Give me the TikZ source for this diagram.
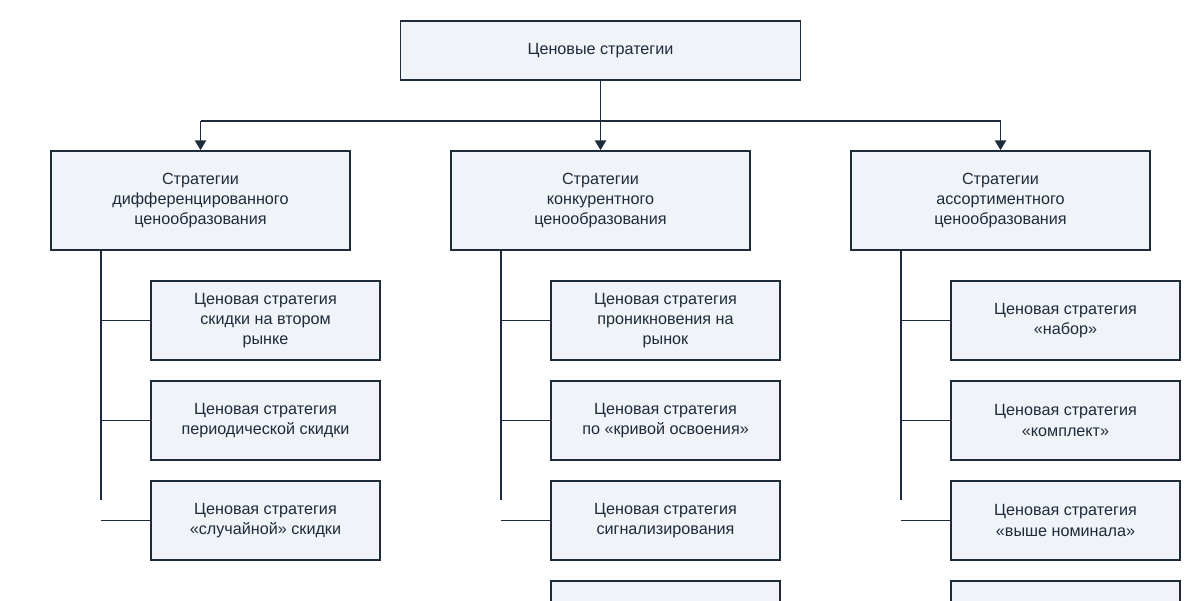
\documentclass[tikz,border=0pt]{standalone}
\usepackage{fontspec}
\setmainfont{Liberation Sans}
\usetikzlibrary{arrows.meta}
\definecolor{bfill}{HTML}{F0F3F8}
\definecolor{bline}{HTML}{1E2B3A}
\begin{document}
\begin{tikzpicture}[x=0.025cm,y=-0.025cm,
  box/.style={draw=bline,fill=bfill,line width=1.2pt,align=center,text=bline,
    font=\fontsize{11.5}{14.3}\selectfont,inner sep=0pt},
  top/.style={box,minimum width=10cm,minimum height=1.475cm},
  mid/.style={box,minimum width=7.475cm,minimum height=2.475cm},
  leaf/.style={box,minimum width=5.725cm,minimum height=1.975cm},
  conn/.style={draw=bline,line width=1.2pt},
  arr/.style={conn,-{Triangle[length=7pt,width=8pt]}}]
\useasboundingbox (0,0) rectangle (1200,600);
\clip (0,0) rectangle (1200,600);
\node[top] (t) at (600.5,50.5) {Ценовые стратегии};
\node[mid] (a) at (200.5,200.5) {Стратегии\\дифференцированного\\ценообразования};
\node[mid] (b) at (600.5,200.5) {Стратегии\\конкурентного\\ценообразования};
\node[mid] (c) at (1000.5,200.5) {Стратегии\\ассортиментного\\ценообразования};
\coordinate (j) at (600.5,121);
\draw[conn] (t.south) -- (j);
\draw[conn] (200.5,121) -- (1000.5,121);
\draw[arr] (200.5,121) -- (a.north);
\draw[arr] (j) -- (b.north);
\draw[arr] (1000.5,121) -- (c.north);
% left column
\node[leaf] (a1) at (265.5,320.5) {Ценовая стратегия\\скидки на втором\\рынке};
\node[leaf] (a2) at (265.5,420.5) {Ценовая стратегия\\периодической скидки};
\node[leaf] (a3) at (265.5,520.5) {Ценовая стратегия\\«случайной» скидки};
% middle
\node[leaf] (b1) at (665.5,320.5) {Ценовая стратегия\\проникновения на\\рынок};
\node[leaf] (b2) at (665.5,420.5) {Ценовая стратегия\\по «кривой освоения»};
\node[leaf] (b3) at (665.5,520.5) {Ценовая стратегия\\сигнализирования};
\node[leaf] (b4) at (665.5,620.5) {};
% right
\node[leaf] (c1) at (1065.5,320.5) {Ценовая стратегия\\«набор»};
\node[leaf] (c2) at (1065.5,420.5) {Ценовая стратегия\\«комплект»};
\node[leaf] (c3) at (1065.5,520.5) {Ценовая стратегия\\«выше номинала»};
\node[leaf] (c4) at (1065.5,620.5) {};
\foreach \p/\x in {a/101,b/501,c/901}{
  \draw[conn] (\x,250) -- (\x,500);
  \foreach \i in {1,2,3}{
    \draw[conn] (\x,0 |- \p\i.west) -- (\p\i.west);
  }
}
\end{tikzpicture}
\end{document}
